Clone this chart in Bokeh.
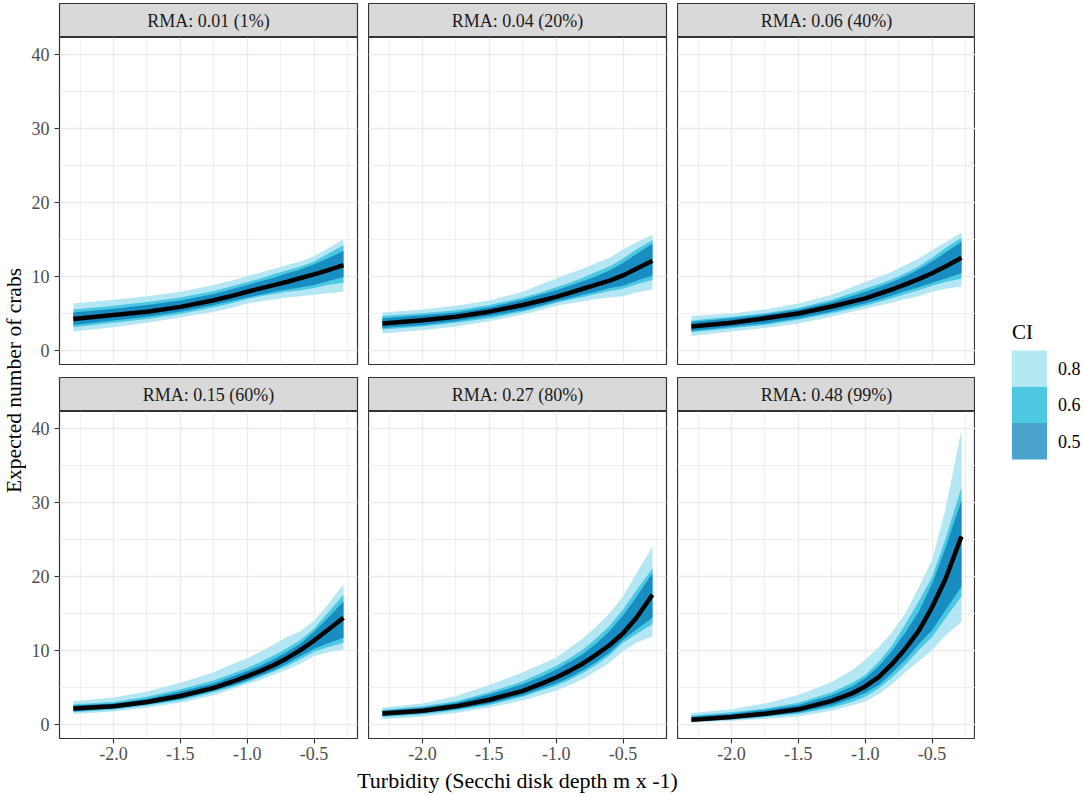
import math
from bokeh.plotting import figure
from bokeh.layouts import row, column
from bokeh.models import FixedTicker, Range1d
from bokeh.core.properties import value
from bokeh.embed import file_html
from bokeh.resources import INLINE

# ---------------- data ----------------
panel_titles = ["RMA: 0.01 (1%)", "RMA: 0.04 (20%)", "RMA: 0.06 (40%)",
                "RMA: 0.15 (60%)", "RMA: 0.27 (80%)", "RMA: 0.48 (99%)"]

turbidity = [-2.3, -2.0, -1.75, -1.5, -1.25, -1.1, -1.0, -0.9, -0.8, -0.7, -0.6, -0.5, -0.4, -0.28]

mean_crabs = [
    [4.2, 4.75, 5.2, 5.85, 6.75, 7.4, 7.9, 8.35, 8.8, 9.25, 9.75, 10.25, 10.8, 11.5],
    [3.6, 4.05, 4.5, 5.2, 6.1, 6.75, 7.2, 7.75, 8.3, 8.85, 9.4, 10.1, 11.0, 12.1],
    [3.2, 3.7, 4.3, 4.95, 5.9, 6.55, 7.0, 7.6, 8.2, 8.9, 9.6, 10.4, 11.3, 12.5],
    [2.1, 2.4, 3.0, 3.8, 4.9, 5.8, 6.5, 7.2, 8.0, 8.95, 10.05, 11.3, 12.7, 14.4],
    [1.44, 1.8, 2.4, 3.3, 4.5, 5.55, 6.3, 7.2, 8.2, 9.4, 10.7, 12.3, 14.4, 17.5],
    [0.6, 0.95, 1.4, 2.0, 3.15, 4.15, 5.1, 6.35, 8.1, 10.2, 12.6, 15.8, 19.6, 25.4],
]

ci80_lo = [
    [2.5, 3.1, 3.7, 4.4, 5.2, 5.8, 6.3, 6.6, 6.85, 7.1, 7.3, 7.5, 7.7, 7.9],
    [2.25, 2.7, 3.2, 3.9, 4.8, 5.5, 6.0, 6.3, 6.6, 6.9, 7.1, 7.3, 7.8, 8.2],
    [1.9, 2.5, 3.0, 3.6, 4.5, 5.2, 5.6, 6.0, 6.4, 6.9, 7.3, 7.9, 8.3, 8.6],
    [1.35, 1.7, 2.2, 2.9, 3.9, 4.8, 5.4, 6.0, 6.7, 7.4, 8.2, 9.2, 9.7, 10.1],
    [0.67, 1.0, 1.5, 2.25, 3.2, 4.0, 4.5, 5.3, 6.1, 7.2, 8.3, 9.9, 11.0, 11.9],
    [0.2, 0.45, 0.7, 1.03, 1.8, 2.5, 3.05, 4.05, 5.4, 7.0, 8.5, 10.0, 12.0, 13.8],
]
ci80_hi = [
    [6.3, 6.8, 7.3, 7.9, 8.8, 9.5, 10.0, 10.5, 11.0, 11.5, 12.0, 12.7, 13.7, 15.0],
    [5.1, 5.5, 6.0, 6.7, 7.9, 9.0, 9.7, 10.4, 11.0, 11.8, 12.5, 13.6, 14.6, 15.6],
    [4.6, 4.95, 5.5, 6.3, 7.5, 8.5, 9.2, 9.9, 10.6, 11.5, 12.4, 13.5, 14.6, 15.9],
    [3.1, 3.6, 4.4, 5.6, 7.0, 8.2, 8.9, 9.8, 10.8, 11.8, 12.6, 14.0, 16.1, 18.9],
    [2.25, 2.8, 3.8, 5.3, 7.0, 8.2, 9.0, 10.3, 11.6, 13.2, 15.0, 17.3, 20.4, 24.0],
    [1.5, 2.0, 2.8, 3.95, 5.7, 7.3, 8.7, 10.4, 12.4, 15.0, 18.5, 22.2, 29.0, 39.8],
]
ci60_lo = [
    [3.1, 3.7, 4.2, 4.9, 5.8, 6.4, 6.9, 7.3, 7.6, 7.9, 8.1, 8.4, 8.8, 9.1],
    [2.8, 3.2, 3.7, 4.3, 5.2, 5.9, 6.4, 6.8, 7.2, 7.6, 8.0, 8.3, 8.9, 9.5],
    [2.4, 2.95, 3.4, 4.1, 5.0, 5.6, 6.0, 6.5, 7.0, 7.6, 8.1, 8.7, 9.2, 9.7],
    [1.6, 1.95, 2.5, 3.2, 4.3, 5.1, 5.7, 6.4, 7.1, 7.9, 8.8, 9.8, 10.4, 11.0],
    [0.95, 1.3, 1.85, 2.6, 3.7, 4.6, 5.2, 6.0, 6.9, 8.0, 9.3, 11.0, 12.2, 13.5],
    [0.35, 0.6, 0.95, 1.4, 2.2, 3.0, 3.7, 4.8, 6.3, 8.0, 10.0, 11.8, 14.3, 17.3],
]
ci60_hi = [
    [5.5, 6.0, 6.5, 7.1, 8.0, 8.7, 9.2, 9.7, 10.3, 10.8, 11.3, 12.0, 13.0, 14.2],
    [4.6, 5.0, 5.4, 6.1, 7.1, 7.9, 8.5, 9.1, 9.8, 10.6, 11.3, 12.4, 13.6, 14.9],
    [4.0, 4.5, 5.0, 5.7, 6.8, 7.7, 8.3, 8.9, 9.6, 10.4, 11.3, 12.5, 13.8, 15.2],
    [2.7, 3.0, 3.7, 4.7, 5.9, 6.9, 7.6, 8.4, 9.3, 10.3, 11.4, 12.9, 15.0, 17.5],
    [1.95, 2.4, 3.1, 4.3, 5.8, 7.0, 7.9, 8.9, 10.1, 11.6, 13.3, 15.5, 18.1, 21.1],
    [1.15, 1.6, 2.1, 2.9, 4.3, 5.55, 6.65, 8.4, 10.6, 13.5, 16.6, 19.9, 25.0, 32.1],
]
ci50_lo = [
    [3.4, 4.0, 4.5, 5.2, 6.1, 6.7, 7.1, 7.5, 7.9, 8.2, 8.5, 8.8, 9.3, 9.9],
    [3.0, 3.4, 3.9, 4.6, 5.4, 6.1, 6.6, 7.0, 7.5, 7.9, 8.4, 8.7, 9.4, 10.1],
    [2.6, 3.15, 3.6, 4.3, 5.2, 5.9, 6.3, 6.8, 7.4, 8.0, 8.5, 9.1, 9.7, 10.4],
    [1.75, 2.1, 2.65, 3.4, 4.5, 5.3, 5.9, 6.6, 7.3, 8.2, 9.2, 10.2, 10.9, 11.7],
    [1.1, 1.45, 2.0, 2.8, 3.9, 4.9, 5.5, 6.3, 7.3, 8.4, 9.7, 11.4, 12.8, 14.4],
    [0.4, 0.7, 1.05, 1.57, 2.5, 3.45, 4.2, 5.3, 6.9, 8.7, 10.8, 12.7, 15.4, 18.6],
]
ci50_hi = [
    [5.1, 5.6, 6.1, 6.7, 7.6, 8.3, 8.8, 9.3, 9.8, 10.4, 10.9, 11.6, 12.4, 13.4],
    [4.3, 4.7, 5.1, 5.8, 6.8, 7.6, 8.1, 8.7, 9.3, 10.0, 10.8, 11.8, 13.0, 14.4],
    [3.8, 4.3, 4.8, 5.5, 6.5, 7.3, 7.9, 8.5, 9.2, 10.0, 10.9, 12.0, 13.2, 14.65],
    [2.5, 2.8, 3.4, 4.4, 5.5, 6.5, 7.2, 7.9, 8.8, 9.8, 10.9, 12.5, 14.3, 16.6],
    [1.8, 2.2, 2.9, 4.0, 5.4, 6.5, 7.4, 8.4, 9.5, 10.9, 12.6, 14.7, 17.2, 20.4],
    [1.0, 1.4, 1.95, 2.6, 3.9, 5.1, 6.2, 7.8, 9.9, 12.4, 15.2, 19.0, 23.8, 30.3],
]

ci_levels = ["0.8", "0.6", "0.5"]

x_ticks = [-2.0, -1.5, -1.0, -0.5]
x_tick_labels = ["-2.0", "-1.5", "-1.0", "-0.5"]
x_minor = [-2.25, -1.75, -1.25, -0.75, -0.25]
y_ticks = [0, 10, 20, 30, 40]
y_tick_labels = ["0", "10", "20", "30", "40"]
y_minor = [5, 15, 25, 35]

x_title = "Turbidity (Secchi disk depth m x -1)"
y_title = "Expected number of crabs"
legend_title = "CI"

# ---------------- style ----------------
FONT = "Liberation Serif"
band_colors = {"0.8": "#b4e7f3", "0.6": "#4dc8e2", "0.5": "#178dc2"}
key_colors = {"0.8": "#b4e8f3", "0.6": "#4dc9e2", "0.5": "#4aa3cd"}

TOP_M = 3
FW, FH = 298, 327
STRIP_H = 34
LEFT_B = 33
GAP_X = 11
GAP_Y = 13
BOT_AX = 30
YT_W = 26
XT_H = 26
TOTAL_H = TOP_M + STRIP_H + FH + GAP_Y + STRIP_H + FH + BOT_AX + XT_H
GRID_W = LEFT_B + 3 * FW + 2 * GAP_X
LEG_W = 1084 - YT_W - GRID_W


def bare(p):
    p.grid.visible = False
    p.outline_line_color = None
    p.background_fill_color = "white"
    p.border_fill_color = "white"
    return p


def strip_fig(i, left, right, top):
    p = figure(frame_width=FW, frame_height=STRIP_H, x_range=Range1d(0, 1), y_range=Range1d(0, 1),
               output_backend="svg", toolbar_location=None,
               x_axis_location=None, y_axis_location=None,
               min_border_left=left, min_border_right=right, min_border_top=top, min_border_bottom=0)
    p.grid.visible = False
    p.background_fill_color = "#d9d9d9"
    p.border_fill_color = "white"
    p.outline_line_color = "#333333"
    p.outline_line_width = 1.2
    p.text(x=[0.5], y=[0.48], text=[panel_titles[i]], text_align="center", text_baseline="middle",
           text_font=value(FONT), text_font_size="18px", text_color="#1a1a1a")
    return p


def main_fig(i, left, right, bottom, has_x, has_y):
    p = figure(frame_width=FW, frame_height=FH,
               x_range=Range1d(-2.404, -0.175), y_range=Range1d(-1.95, 42.3),
               output_backend="svg", toolbar_location=None,
               x_axis_location="below" if has_x else None,
               y_axis_location="left" if has_y else None,
               min_border_left=left, min_border_right=right, min_border_top=0, min_border_bottom=bottom)
    p.background_fill_color = "white"
    p.border_fill_color = "white"
    p.outline_line_color = "#333333"
    p.outline_line_width = 1.2

    p.xgrid.ticker = FixedTicker(ticks=x_ticks, minor_ticks=x_minor)
    p.ygrid.ticker = FixedTicker(ticks=y_ticks, minor_ticks=y_minor)
    for g in (p.xgrid[0], p.ygrid[0]):
        g.grid_line_color = "#ebebeb"
        g.grid_line_width = 1.4
        g.minor_grid_line_color = "#ebebeb"
        g.minor_grid_line_width = 0.8

    if has_x:
        ax = p.xaxis[0]
        ax.ticker = FixedTicker(ticks=x_ticks)
        ax.major_label_overrides = {t: l for t, l in zip(x_ticks, x_tick_labels)}
        ax.major_label_standoff = 3
    if has_y:
        ay = p.yaxis[0]
        ay.ticker = FixedTicker(ticks=y_ticks)
        ay.major_label_overrides = {t: l for t, l in zip(y_ticks, y_tick_labels)}
        ay.major_label_standoff = 5
    for ax in p.axis:
        ax.axis_line_color = None
        ax.major_tick_line_color = "#333333"
        ax.major_tick_line_width = 1.1
        ax.major_tick_out = 5
        ax.major_tick_in = 0
        ax.minor_tick_line_color = None
        ax.major_label_text_font = FONT
        ax.major_label_text_font_size = "18px"
        ax.major_label_text_color = "#4d4d4d"

    p.varea(x=turbidity, y1=ci80_lo[i], y2=ci80_hi[i], fill_color=band_colors["0.8"])
    p.varea(x=turbidity, y1=ci60_lo[i], y2=ci60_hi[i], fill_color=band_colors["0.6"])
    p.varea(x=turbidity, y1=ci50_lo[i], y2=ci50_hi[i], fill_color=band_colors["0.5"])
    p.line(x=turbidity, y=mean_crabs[i], line_color="black", line_width=4.5, line_join="round")
    return p


rows = []
for r in range(2):
    facets = []
    for c in range(3):
        i = r * 3 + c
        left = LEFT_B if c == 0 else 0
        right = GAP_X if c < 2 else 0
        bottom = BOT_AX if r == 1 else GAP_Y
        top = TOP_M if r == 0 else 0
        s = strip_fig(i, left, right, top)
        m = main_fig(i, left, right, bottom, has_x=(r == 1), has_y=(c == 0))
        facets.append(column(s, m))
    rows.append(row(*facets))

# x axis title
xt = bare(figure(width=GRID_W, height=XT_H, x_range=Range1d(0, GRID_W), y_range=Range1d(0, XT_H),
                 output_backend="svg", toolbar_location=None, x_axis_location=None, y_axis_location=None,
                 min_border=0))
frames_center = LEFT_B + (3 * FW + 2 * GAP_X) / 2
xt.text(x=[frames_center], y=[XT_H / 2 + 1], text=[x_title], text_align="center", text_baseline="middle",
        text_font=value(FONT), text_font_size="22px", text_color="black")

# y axis title
yt = bare(figure(width=YT_W, height=TOTAL_H, x_range=Range1d(0, YT_W), y_range=Range1d(0, TOTAL_H),
                 output_backend="svg", toolbar_location=None, x_axis_location=None, y_axis_location=None,
                 min_border=0))
yt.text(x=[13.5], y=[TOTAL_H - 380], text=[y_title], text_align="center", text_baseline="middle",
        angle=math.pi / 2, text_font=value(FONT), text_font_size="21.5px", text_color="black")

# legend
lg = bare(figure(width=LEG_W, height=TOTAL_H, x_range=Range1d(0, LEG_W), y_range=Range1d(0, TOTAL_H),
                 output_backend="svg", toolbar_location=None, x_axis_location=None, y_axis_location=None,
                 min_border=0))
leg_left = YT_W + GRID_W
key_x0 = 1011.5 - leg_left
key_w = 35
key_h = 36.3
key_top = 350
lg.text(x=[key_x0], y=[TOTAL_H - (key_top - 19)], text=[legend_title], text_align="left",
        text_baseline="middle", text_font=value(FONT), text_font_size="21px", text_color="black")
kx = [key_x0 + key_w / 2] * len(ci_levels)
ky = [TOTAL_H - (key_top + key_h * (k + 0.5)) for k in range(len(ci_levels))]
lg.rect(x=kx, y=ky, width=key_w, height=key_h, fill_color=[key_colors[l] for l in ci_levels],
        line_color=None)
lg.text(x=[key_x0 + key_w + 11] * len(ci_levels), y=ky, text=ci_levels, text_align="left",
        text_baseline="middle", text_font=value(FONT), text_font_size="18px", text_color="black")

layout = row(yt, column(rows[0], rows[1], xt), lg)

open("out.html", "w").write(file_html(layout, INLINE))
